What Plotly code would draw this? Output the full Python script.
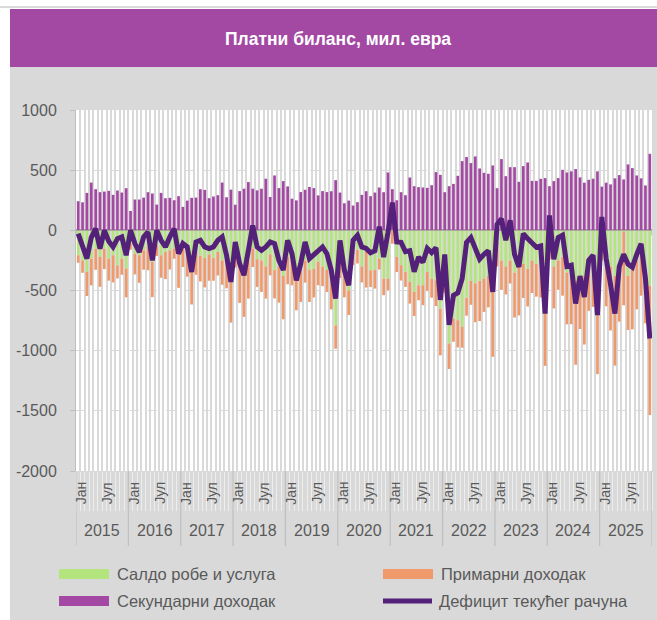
import plotly.graph_objects as go

# ---------------- data (mil. EUR, monthly Jan 2015 - Dec 2025) ----------------
years = [str(y) for y in range(2015, 2026)]
month_names = ['Јан', 'Феб', 'Мар', 'Апр', 'Мај', 'Јун', 'Јул', 'Авг', 'Сеп', 'Окт', 'Нов', 'Дец']
shown_months = ['Јан', 'Јул']
categories = [f"{m} {y}" for y in years for m in month_names]

goods_services = [
    -207, -249, -346, -235, -152, -221, -152, -235, -207, -290, -235, -318,
    -110, -194, -207, -166, -138, -263, -120, -207, -180, -166, -150, -194,
    -140, -200, -250, -180, -210, -230, -200, -230, -180, -250, -260, -400,
    -150, -280, -330, -260, -150, -240, -250, -300, -200, -330, -300, -380,
    -220, -250, -400, -300, -250, -330, -320, -260, -300, -330, -400, -790,
    -250, -330, -500, -180, -160, -300, -166, -332, -330, -235, -401, -401,
    -5, -221, -290, -346, -429, -512, -456, -456, -346, -401, -415, -650,
    -400, -940, -733, -747, -800, -560, -420, -440, -420, -400, -380, -420,
    -100, -250, -300, -250, -350, -300, -280, -320, -250, -280, -200, -350,
    -50, -300, -250, -220, -350, -380, -420, -400, -380, -300, -280, -400,
    -60, -250, -300, -380, -300, -10, -380, -330, -250, -200, -350, -460]

primary_income = [
    -63, -104, -200, -222, -176, -248, -170, -183, -226, -110, -134, -239,
    -51, -172, -229, -161, -193, -292, -94, -187, -225, -159, -86, -284,
    -165, -185, -366, -189, -215, -244, -219, -189, -195, -202, -222, -367,
    -160, -323, -389, -307, -155, -230, -262, -267, -174, -236, -301, -359,
    -228, -207, -264, -295, -184, -265, -238, -196, -164, -182, -257, -194,
    -147, -227, -203, -109, -115, -133, -309, -138, -154, -91, -138, -97,
    -106, -126, -127, -124, -180, -200, -125, -166, -157, -159, -214, -389,
    -117, -212, -193, -226, -175, -149, -199, -324, -334, -278, -260, -631,
    -200, -245, -233, -192, -375, -407, -282, -313, -271, -271, -358, -776,
    -193, -349, -244, -323, -431, -400, -697, -420, -569, -369, -356, -795,
    -192, -381, -532, -744, -459, -613, -448, -493, -406, -343, -423, -1075]

secondary_income = [
    242, 233, 311, 397, 342, 317, 322, 328, 295, 331, 314, 350,
    161, 256, 256, 272, 317, 306, 214, 311, 267, 270, 250, 284,
    195, 247, 270, 272, 342, 336, 267, 281, 292, 397, 275, 338,
    213, 326, 346, 401, 346, 332, 346, 429, 277, 456, 351, 409,
    365, 263, 249, 318, 337, 360, 351, 290, 326, 318, 325, 417,
    314, 225, 247, 206, 234, 295, 325, 284, 314, 356, 317, 481,
    342, 250, 317, 292, 439, 367, 359, 356, 353, 375, 484, 461,
    317, 367, 386, 453, 575, 609, 559, 614, 514, 478, 470, 539,
    350, 592, 450, 525, 525, 403, 534, 564, 411, 411, 428, 434,
    367, 409, 434, 503, 481, 490, 509, 440, 396, 420, 429, 490,
    363, 396, 382, 432, 459, 423, 548, 517, 456, 432, 373, 636]

current_account = [
    -28, -120, -235, -60, 14, -152, 0, -90, -138, -69, -55, -207,
    0, -110, -180, -55, -14, -249, 0, -83, -138, -55, 14, -194,
    -110, -138, -346, -97, -83, -138, -152, -138, -83, -55, -207, -429,
    -97, -277, -373, -166, 41, -138, -166, -138, -97, -110, -250, -330,
    -83, -194, -415, -277, -97, -235, -207, -166, -138, -194, -332, -567,
    -83, -332, -456, -83, -41, -138, -150, -186, -170, 30, -222, -17,
    231, -97, -100, -178, -170, -345, -222, -266, -150, -185, -145, -578,
    -200, -785, -540, -520, -400, -100, -60, -150, -240, -200, -170, -512,
    50, 97, -83, 83, -200, -304, -28, -69, -110, -140, -130, -692,
    124, -240, -60, -40, -300, -290, -608, -380, -553, -249, -207, -705,
    111, -235, -450, -692, -300, -200, -280, -306, -200, -111, -400, -899]

series_names = ['Салдо робе и услуга', 'Примарни доходак', 'Секундарни доходак', 'Дефицит текућег рачуна']
title_text = 'Платни биланс, мил. евра'
y_ticks = [-2000, -1500, -1000, -500, 0, 500, 1000]

# ---------------- styling ----------------
W, H = 657, 620
L_, R_, T_, B_ = 76, 652, 110, 471
GREEN, ORANGE, PURPLE, LINE = '#B3E47E', '#F0996A', '#A349A4', '#54217A'
GREY_BG = '#D9D9D9'
TXT = '#595959'
FONT = 'Liberation Sans'


def xp(px):
    return (px - L_) / (R_ - L_)


def yp(py):
    return (B_ - py) / (B_ - T_)


fig = go.Figure()
fig.add_bar(x=categories, y=goods_services, name=series_names[0], marker=dict(color=GREEN, line=dict(width=0)), width=0.62)
fig.add_bar(x=categories, y=primary_income, name=series_names[1], marker=dict(color=ORANGE, line=dict(width=0)), width=0.62)
fig.add_bar(x=categories, y=secondary_income, name=series_names[2], marker=dict(color=PURPLE, line=dict(width=0)), width=0.62)
fig.add_scatter(x=categories, y=current_account, mode='lines', name=series_names[3],
                line=dict(color=LINE, width=5))

shapes = []
# outer grey panel and title band (paper coords)
shapes.append(dict(type='rect', xref='paper', yref='paper', x0=xp(10), x1=xp(660), y0=yp(623), y1=yp(67),
                   fillcolor=GREY_BG, line=dict(width=0), layer='below'))
shapes.append(dict(type='rect', xref='paper', yref='paper', x0=0, x1=1, y0=0, y1=1,
                   fillcolor='white', line=dict(width=0), layer='below'))
shapes.append(dict(type='rect', xref='paper', yref='paper', x0=xp(10), x1=xp(660), y0=yp(67), y1=yp(9),
                   fillcolor=PURPLE, line=dict(width=0), layer='below'))
shapes.append(dict(type='line', xref='paper', yref='paper', x0=xp(0), x1=xp(660), y0=yp(7), y1=yp(7),
                   line=dict(color=GREY_BG, width=2), layer='below'))

n = len(categories)
# small ticks on the zero axis line
for k in range(n + 1):
    shapes.append(dict(type='line', xref='x', yref='y', x0=k - 0.5, x1=k - 0.5, y0=0, y1=-42,
                       line=dict(color='#A6A6A6', width=1.2), layer='below'))
# year group separators below plot
for k in range(len(years) + 1):
    shapes.append(dict(type='line', xref='x', yref='paper', x0=12 * k - 0.5, x1=12 * k - 0.5,
                       y0=yp(471), y1=yp(546), line=dict(color='#BFBFBF', width=1.2), layer='above'))

annotations = []
annotations.append(dict(text=f'<b>{title_text}</b>', x=xp(338), y=yp(39), xref='paper', yref='paper',
                        showarrow=False, font=dict(family=FONT, size=17.5, color='white'),
                        xanchor='center', yanchor='middle'))
for yi, yr in enumerate(years):
    for m in shown_months:
        mi = month_names.index(m)
        annotations.append(dict(text=m, x=yi * 12 + mi, y=yp(493), xref='x', yref='paper', textangle=-90,
                                showarrow=False, font=dict(family=FONT, size=14, color=TXT),
                                xanchor='center', yanchor='middle', xshift=3))
    annotations.append(dict(text=yr, x=yi * 12 + 5.5, y=yp(530), xref='x', yref='paper', showarrow=False,
                            font=dict(family=FONT, size=16, color=TXT), xanchor='center', yanchor='middle'))

# custom legend
leg = [(59, 574, GREEN, series_names[0], 'rect'), (383, 574, ORANGE, series_names[1], 'rect'),
       (59, 601, PURPLE, series_names[2], 'rect'), (381, 601, LINE, series_names[3], 'line')]
for x0, yc, col, name, kind in leg:
    if kind == 'rect':
        shapes.append(dict(type='rect', xref='paper', yref='paper', x0=xp(x0), x1=xp(x0 + 50),
                           y0=yp(yc + 5), y1=yp(yc - 5), fillcolor=col, line=dict(width=0), layer='above'))
    else:
        shapes.append(dict(type='line', xref='paper', yref='paper', x0=xp(x0 + 2), x1=xp(x0 + 51),
                           y0=yp(yc), y1=yp(yc), line=dict(color=col, width=5), layer='above'))
    annotations.append(dict(text=name, x=xp(x0 + 56), y=yp(yc), xref='paper', yref='paper', showarrow=False,
                            font=dict(family=FONT, size=16.5, color=TXT), xanchor='left', yanchor='middle'))

fig.update_layout(
    width=W, height=H,
    margin=dict(l=L_, r=W - R_, t=T_, b=H - B_, pad=0),
    paper_bgcolor='white', plot_bgcolor='white',
    barmode='relative', showlegend=False,
    shapes=shapes, annotations=annotations,
    xaxis=dict(type='category', categoryorder='array', categoryarray=categories,
               range=[-0.5, n - 0.5], tickson='boundaries', tickmode='linear', tick0=0, dtick=1,
               showgrid=True, gridcolor='#D9D9D9', gridwidth=1.5,
               ticks='outside', ticklen=39, tickcolor='#EDEDED', tickwidth=1,
               showticklabels=False, showline=False, zeroline=False, fixedrange=True),
    yaxis=dict(range=[-2000, 1000], tickmode='array', tickvals=y_ticks, ticktext=[str(v) for v in y_ticks],
               tickfont=dict(family=FONT, size=16, color=TXT), ticks='outside', ticklen=5,
               tickcolor='#BFBFBF', ticklabelstandoff=10, showline=True, linecolor='#BFBFBF', linewidth=1,
               showgrid=True, gridcolor='#D9D9D9', griddash='dash', gridwidth=1,
               zeroline=True, zerolinecolor='#A6A6A6', zerolinewidth=1.5, fixedrange=True),
)

fig.write_html('out.html', config={'displayModeBar': False},
               post_script="document.body.style.margin='0';document.body.style.overflow='hidden';")
